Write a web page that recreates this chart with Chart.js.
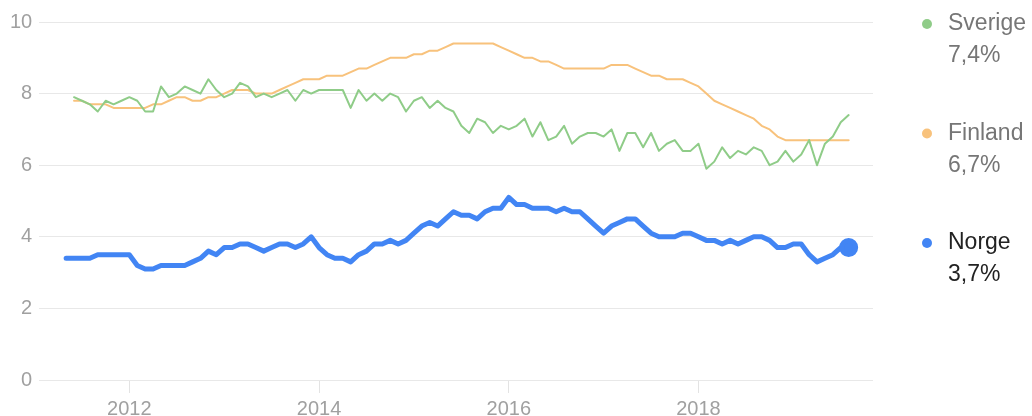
<!DOCTYPE html>
<html>
<head>
<meta charset="utf-8">
<script src="https://cdn.jsdelivr.net/npm/chart.js@4"></script>
<style>
  html, body { margin: 0; padding: 0; background: #fff; }
  #wrap { width: 1032px; height: 416px; }
</style>
</head>
<body>
<div id="wrap"><canvas id="unemployment" width="1032" height="416"></canvas></div>
<script>
// arbetslöshet per månad, i procent
const countries = ['Sverige', 'Finland', 'Norge'];
const colors = ['#8fcc88', '#f8c27c', '#4285f4'];
const firstMonth = { Sverige: [2011, 6], Finland: [2011, 6], Norge: [2011, 5] };

const sverige = [
  7.9, 7.8, 7.7, 7.5, 7.8, 7.7, 7.8, 7.9, 7.8, 7.5,
  7.5, 8.2, 7.9, 8.0, 8.2, 8.1, 8.0, 8.4, 8.1, 7.9,
  8.0, 8.3, 8.2, 7.9, 8.0, 7.9, 8.0, 8.1, 7.8, 8.1,
  8.0, 8.1, 8.1, 8.1, 8.1, 7.6, 8.1, 7.8, 8.0, 7.8,
  8.0, 7.9, 7.5, 7.8, 7.9, 7.6, 7.8, 7.6, 7.5, 7.1,
  6.9, 7.3, 7.2, 6.9, 7.1, 7.0, 7.1, 7.3, 6.8, 7.2,
  6.7, 6.8, 7.1, 6.6, 6.8, 6.9, 6.9, 6.8, 7.0, 6.4,
  6.9, 6.9, 6.5, 6.9, 6.4, 6.6, 6.7, 6.4, 6.4, 6.6,
  5.9, 6.1, 6.5, 6.2, 6.4, 6.3, 6.5, 6.4, 6.0, 6.1,
  6.4, 6.1, 6.3, 6.7, 6.0, 6.6, 6.8, 7.2, 7.4
];

const finland = [
  7.8, 7.8, 7.7, 7.7, 7.7, 7.6, 7.6, 7.6, 7.6, 7.6,
  7.7, 7.7, 7.8, 7.9, 7.9, 7.8, 7.8, 7.9, 7.9, 8.0,
  8.1, 8.1, 8.1, 8.0, 8.0, 8.0, 8.1, 8.2, 8.3, 8.4,
  8.4, 8.4, 8.5, 8.5, 8.5, 8.6, 8.7, 8.7, 8.8, 8.9,
  9.0, 9.0, 9.0, 9.1, 9.1, 9.2, 9.2, 9.3, 9.4, 9.4,
  9.4, 9.4, 9.4, 9.4, 9.3, 9.2, 9.1, 9.0, 9.0, 8.9,
  8.9, 8.8, 8.7, 8.7, 8.7, 8.7, 8.7, 8.7, 8.8, 8.8,
  8.8, 8.7, 8.6, 8.5, 8.5, 8.4, 8.4, 8.4, 8.3, 8.2,
  8.0, 7.8, 7.7, 7.6, 7.5, 7.4, 7.3, 7.1, 7.0, 6.8,
  6.7, 6.7, 6.7, 6.7, 6.7, 6.7, 6.7, 6.7, 6.7
];

const norge = [
  3.4, 3.4, 3.4, 3.4, 3.5, 3.5, 3.5, 3.5, 3.5, 3.2,
  3.1, 3.1, 3.2, 3.2, 3.2, 3.2, 3.3, 3.4, 3.6, 3.5,
  3.7, 3.7, 3.8, 3.8, 3.7, 3.6, 3.7, 3.8, 3.8, 3.7,
  3.8, 4.0, 3.7, 3.5, 3.4, 3.4, 3.3, 3.5, 3.6, 3.8,
  3.8, 3.9, 3.8, 3.9, 4.1, 4.3, 4.4, 4.3, 4.5, 4.7,
  4.6, 4.6, 4.5, 4.7, 4.8, 4.8, 5.1, 4.9, 4.9, 4.8,
  4.8, 4.8, 4.7, 4.8, 4.7, 4.7, 4.5, 4.3, 4.1, 4.3,
  4.4, 4.5, 4.5, 4.3, 4.1, 4.0, 4.0, 4.0, 4.1, 4.1,
  4.0, 3.9, 3.9, 3.8, 3.9, 3.8, 3.9, 4.0, 4.0, 3.9,
  3.7, 3.7, 3.8, 3.8, 3.5, 3.3, 3.4, 3.5, 3.7, 3.7
];

const yTicks = [0, 2, 4, 6, 8, 10];
const xTicks = [2012, 2014, 2016, 2018];

const series = [sverige, finland, norge];
const axisColor = '#a0a0a0';
const fontFamily = "'Liberation Sans', Arial, Helvetica, sans-serif";

// month -> decimal year so the x axis can be linear
const toPoints = (name, values) => {
  const [y0, m0] = firstMonth[name];
  return values.map((v, i) => ({ x: y0 + (m0 - 1 + i) / 12, y: v }));
};

const datasets = countries.map((name, i) => {
  const data = toPoints(name, series[i]);
  const isNorge = name === 'Norge';
  return {
    label: name,
    data: data,
    borderColor: colors[i],
    backgroundColor: colors[i],
    borderWidth: isNorge ? 5 : 2,
    borderJoinStyle: 'round',
    borderCapStyle: 'round',
    tension: 0,
    pointRadius: isNorge ? (ctx => ctx.dataIndex === data.length - 1 ? 7 : 0) : 0,
    pointHoverRadius: 0,
    order: isNorge ? 0 : i + 1
  };
});

// legend on the right: dot, name and last value
const sideLegend = {
  id: 'sideLegend',
  afterDraw(chart) {
    const ctx = chart.ctx;
    const items = chart.data.datasets.map(ds => ({
      label: ds.label,
      color: ds.borderColor,
      last: ds.data[ds.data.length - 1].y
    })).sort((a, b) => b.last - a.last);

    ctx.save();
    ctx.font = '23px ' + fontFamily;
    ctx.textBaseline = 'middle';
    ctx.textAlign = 'left';
    items.forEach((it, k) => {
      const y = 24 + k * 109.5;
      ctx.fillStyle = it.color;
      ctx.beginPath();
      ctx.arc(927, y, 5, 0, Math.PI * 2);
      ctx.fill();
      ctx.fillStyle = it.label === 'Norge' ? '#222222' : '#767676';
      ctx.fillText(it.label, 948, y);
      ctx.fillText(it.last.toFixed(1).replace('.', ',') + '%', 948, y + 32);
    });
    ctx.restore();
  }
};

new Chart(document.getElementById('unemployment'), {
  type: 'line',
  data: { datasets: datasets },
  options: {
    responsive: false,
    animation: false,
    events: [],
    layout: { padding: { top: 22, right: 159, left: 3, bottom: -10 } },
    plugins: {
      legend: { display: false },
      tooltip: { enabled: false }
    },
    scales: {
      x: {
        type: 'linear',
        min: 2011.05,
        max: 2019.84,
        afterBuildTicks: scale => { scale.ticks = xTicks.map(v => ({ value: v })); },
        border: { display: false },
        grid: { drawOnChartArea: false, drawTicks: true, tickLength: 13, color: '#e3e3e3' },
        ticks: {
          color: axisColor,
          padding: 10,
          maxRotation: 0,
          font: { family: fontFamily, size: 20, lineHeight: 0.65 },
          callback: v => String(v)
        }
      },
      y: {
        min: 0,
        max: 10,
        afterBuildTicks: scale => { scale.ticks = yTicks.map(v => ({ value: v })); },
        border: { display: false },
        grid: { color: '#e8e8e8', drawTicks: false },
        ticks: {
          color: axisColor,
          padding: 7,
          font: { family: fontFamily, size: 20 },
          callback: v => String(v)
        }
      }
    }
  },
  plugins: [sideLegend]
});
</script>
</body>
</html>
